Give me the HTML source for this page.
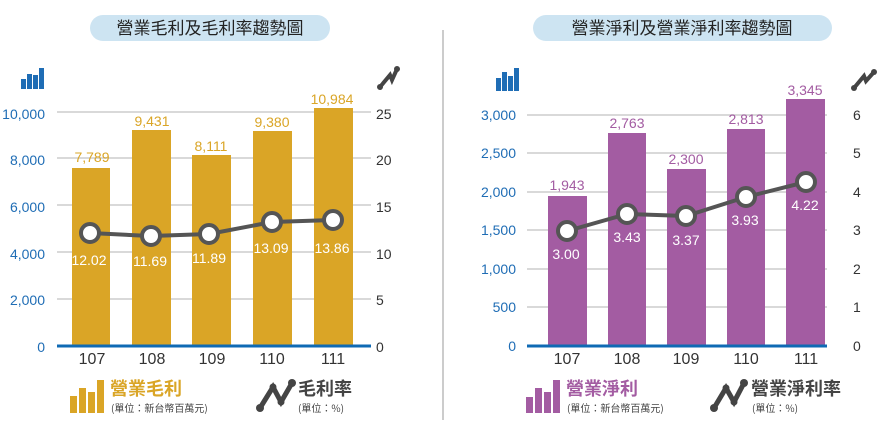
<!DOCTYPE html>
<html><head><meta charset="utf-8"><style>
html,body{margin:0;padding:0;background:#fff;width:892px;height:432px;overflow:hidden}
svg{display:block;font-family:"Liberation Sans","Noto Sans CJK TC",sans-serif}
</style></head><body>
<svg width="892" height="432" viewBox="0 0 892 432">
<!-- titles -->
<rect x="90" y="15" width="240" height="26" rx="13" fill="#cde4f2"/>
<text x="210" y="34" font-size="17" text-anchor="middle" fill="#222" font-family="Noto Sans CJK TC,sans-serif">營業毛利及毛利率趨勢圖</text>
<rect x="533" y="15" width="299" height="26" rx="13" fill="#cde4f2"/>
<text x="682" y="34" font-size="17" text-anchor="middle" fill="#222" font-family="Noto Sans CJK TC,sans-serif">營業淨利及營業淨利率趨勢圖</text>
<line x1="443" y1="30" x2="443" y2="420" stroke="#bbb" stroke-width="1.5"/>

<!-- LEFT CHART -->
<g stroke="#d9d9d9" stroke-width="2">
<line x1="57" y1="112" x2="371" y2="112"/><line x1="57" y1="158" x2="371" y2="158"/>
<line x1="57" y1="205" x2="371" y2="205"/><line x1="57" y1="252" x2="371" y2="252"/>
<line x1="57" y1="299" x2="371" y2="299"/></g>
<g fill="#1f6db5"><rect x="21" y="79" width="5" height="10"/><rect x="27" y="74" width="5" height="15"/><rect x="33" y="75" width="5" height="14"/><rect x="39" y="68" width="5" height="21"/></g>
<g font-size="14" fill="#1f6db5" text-anchor="end">
<text x="45" y="119">10,000</text><text x="45" y="165">8,000</text><text x="45" y="212">6,000</text><text x="45" y="259">4,000</text><text x="45" y="305">2,000</text><text x="45" y="352">0</text></g>
<g font-size="14" fill="#333"><text x="376" y="119">25</text><text x="376" y="165">20</text><text x="376" y="212">15</text><text x="376" y="259">10</text><text x="376" y="305">5</text><text x="376" y="352">0</text></g>
<g stroke="#444" stroke-width="4" stroke-linecap="round" fill="none"><polyline points="380,87 390,75 392,80 397,69"/></g>
<g fill="#444"><circle cx="380" cy="87" r="3"/><circle cx="397" cy="69" r="3"/></g>
<g fill="#daa526">
<rect x="72" y="168" width="38" height="178"/><rect x="132" y="130" width="39" height="216"/>
<rect x="192" y="155" width="39" height="191"/><rect x="253" y="131" width="39" height="215"/>
<rect x="314" y="108" width="39" height="238"/></g>
<g font-size="14" fill="#daa526" text-anchor="middle">
<text x="92" y="162">7,789</text><text x="152" y="126">9,431</text><text x="211" y="151">8,111</text><text x="272" y="127">9,380</text><text x="332" y="104">10,984</text></g>
<line x1="57" y1="346" x2="371" y2="346" stroke="#0f6ab4" stroke-width="3"/>
<polyline points="90,233 151,236 209,234 272,222 333,220" fill="none" stroke="#555" stroke-width="4"/>
<g fill="#fff" stroke="#555" stroke-width="4">
<circle cx="90" cy="233" r="9"/><circle cx="151" cy="236" r="9"/><circle cx="209" cy="234" r="9"/><circle cx="272" cy="222" r="9"/><circle cx="333" cy="220" r="9"/></g>
<g font-size="14" fill="#fff" text-anchor="middle">
<text x="89" y="265">12.02</text><text x="150" y="266">11.69</text><text x="209" y="263">11.89</text><text x="271" y="253">13.09</text><text x="332" y="253">13.86</text></g>
<g font-size="16" fill="#333" text-anchor="middle">
<text x="92" y="364">107</text><text x="152" y="364">108</text><text x="212" y="364">109</text><text x="272" y="364">110</text><text x="333" y="364">111</text></g>
<!-- left legend -->
<g fill="#daa526"><rect x="70" y="396" width="7" height="17"/><rect x="79" y="388" width="7" height="25"/><rect x="88" y="392" width="7" height="21"/><rect x="97" y="380" width="7" height="33"/></g>
<text x="110" y="395" font-size="18" font-weight="bold" fill="#daa526" font-family="Noto Sans CJK TC,sans-serif">營業毛利</text>
<text x="111" y="412" font-size="10" fill="#444" font-family="Noto Sans CJK TC,sans-serif">(單位：新台幣百萬元)</text>
<polyline points="260,408 273,387 281,402 292,383" fill="none" stroke="#444" stroke-width="5"/>
<g fill="#444"><circle cx="260" cy="408" r="4"/><circle cx="292" cy="383" r="4"/><circle cx="281" cy="402" r="3.5"/><circle cx="273" cy="387" r="3.5"/></g>
<text x="298" y="395" font-size="18" font-weight="bold" fill="#444" font-family="Noto Sans CJK TC,sans-serif">毛利率</text>
<text x="298" y="412" font-size="10" fill="#444" font-family="Noto Sans CJK TC,sans-serif">(單位：%)</text>

<!-- RIGHT CHART -->
<g stroke="#d9d9d9" stroke-width="2">
<line x1="527" y1="115" x2="827" y2="115"/><line x1="527" y1="153" x2="827" y2="153"/>
<line x1="527" y1="192" x2="827" y2="192"/><line x1="527" y1="230" x2="827" y2="230"/>
<line x1="527" y1="269" x2="827" y2="269"/><line x1="527" y1="307" x2="827" y2="307"/></g>
<g fill="#1f6db5"><rect x="496" y="78" width="5" height="13"/><rect x="502" y="72" width="5" height="19"/><rect x="508" y="76" width="5" height="15"/><rect x="514" y="68" width="5" height="23"/></g>
<g font-size="14" fill="#1f6db5" text-anchor="end">
<text x="516" y="120">3,000</text><text x="516" y="158">2,500</text><text x="516" y="197">2,000</text><text x="516" y="235">1,500</text><text x="516" y="274">1,000</text><text x="516" y="312">500</text><text x="516" y="351">0</text></g>
<g font-size="14" fill="#333"><text x="853" y="120">6</text><text x="853" y="158">5</text><text x="853" y="197">4</text><text x="853" y="235">3</text><text x="853" y="274">2</text><text x="853" y="312">1</text><text x="853" y="351">0</text></g>
<g stroke="#444" stroke-width="4" stroke-linecap="round" fill="none"><polyline points="854,88 864,76 866,81 874,72"/></g>
<g fill="#444"><circle cx="854" cy="88" r="3"/><circle cx="874" cy="72" r="3"/></g>
<g fill="#a35ca2">
<rect x="548" y="196" width="39" height="150"/><rect x="608" y="133" width="38" height="213"/>
<rect x="667" y="169" width="39" height="177"/><rect x="727" y="129" width="38" height="217"/>
<rect x="786" y="99" width="39" height="247"/></g>
<g font-size="14" fill="#a35ca2" text-anchor="middle">
<text x="567" y="190">1,943</text><text x="627" y="128">2,763</text><text x="686" y="164">2,300</text><text x="746" y="124">2,813</text><text x="805" y="95">3,345</text></g>
<line x1="527" y1="346" x2="827" y2="346" stroke="#0f6ab4" stroke-width="3"/>
<polyline points="567,231 627,214 686,216 746,197 806,182" fill="none" stroke="#555" stroke-width="4"/>
<g fill="#fff" stroke="#555" stroke-width="4">
<circle cx="567" cy="231" r="9"/><circle cx="627" cy="214" r="9"/><circle cx="686" cy="216" r="9"/><circle cx="746" cy="197" r="9"/><circle cx="806" cy="182" r="9"/></g>
<g font-size="14" fill="#fff" text-anchor="middle">
<text x="566" y="259">3.00</text><text x="627" y="242">3.43</text><text x="686" y="245">3.37</text><text x="745" y="225">3.93</text><text x="805" y="210">4.22</text></g>
<g font-size="16" fill="#333" text-anchor="middle">
<text x="567" y="364">107</text><text x="627" y="364">108</text><text x="686" y="364">109</text><text x="746" y="364">110</text><text x="806" y="364">111</text></g>
<!-- right legend -->
<g fill="#a35ca2"><rect x="526" y="397" width="7" height="16"/><rect x="535" y="388" width="7" height="25"/><rect x="544" y="392" width="7" height="21"/><rect x="553" y="380" width="7" height="33"/></g>
<text x="566" y="395" font-size="18" font-weight="bold" fill="#a35ca2" font-family="Noto Sans CJK TC,sans-serif">營業淨利</text>
<text x="567" y="412" font-size="10" fill="#444" font-family="Noto Sans CJK TC,sans-serif">(單位：新台幣百萬元)</text>
<polyline points="714,408 726,388 734,402 744,383" fill="none" stroke="#444" stroke-width="5"/>
<g fill="#444"><circle cx="714" cy="408" r="4"/><circle cx="744" cy="383" r="4"/><circle cx="734" cy="402" r="3.5"/><circle cx="726" cy="388" r="3.5"/></g>
<text x="751" y="395" font-size="18" font-weight="bold" fill="#444" font-family="Noto Sans CJK TC,sans-serif">營業淨利率</text>
<text x="752" y="412" font-size="10" fill="#444" font-family="Noto Sans CJK TC,sans-serif">(單位：%)</text>
</svg>
</body></html>
